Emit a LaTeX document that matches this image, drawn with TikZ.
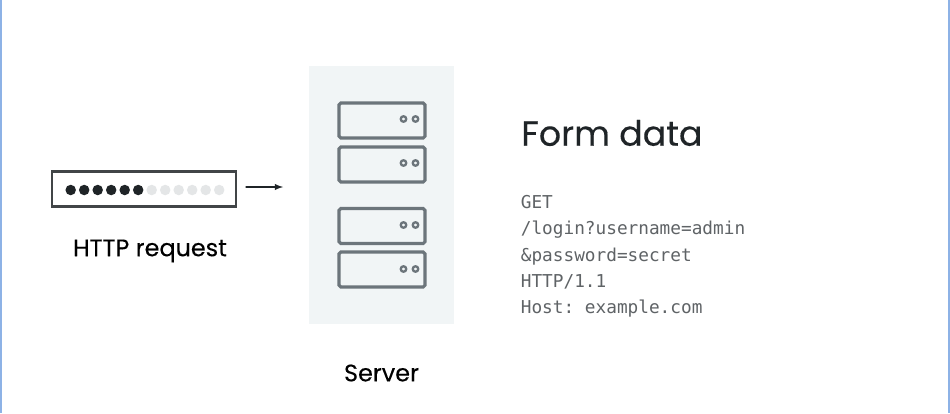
\documentclass[tikz,border=0pt]{standalone}
\usepackage{fontspec}
\setmainfont{Poppins}
\setmonofont{DejaVu Sans Mono}
\usepackage{tikz}
\definecolor{edgeblue}{HTML}{8DB2E6}
\definecolor{panelgray}{HTML}{F1F5F6}
\definecolor{rackgray}{HTML}{6C757B}
\definecolor{inkdark}{HTML}{1F2427}
\definecolor{dotlight}{HTML}{E4E6E7}
\definecolor{codegray}{HTML}{5F6366}
\begin{document}
\begin{tikzpicture}[x=0.02cm, y=-0.02cm, line cap=round,
	reqbox/.style = {rectangle, draw = inkdark!85, line width = 1.3pt, fill = white, minimum width = 3.68cm, minimum height = 0.7cm, inner sep = 0pt},
	dark/.style = {circle, fill = inkdark, minimum size = 0.21cm, inner sep = 0pt},
	light/.style = {circle, fill = dotlight, minimum size = 0.21cm, inner sep = 0pt},
	rack/.style = {rectangle, rounded corners = 1pt, draw = rackgray, line width = 1.8pt, fill = panelgray, minimum width = 1.72cm, minimum height = 0.7cm, inner sep = 0pt},
	led/.style = {circle, draw = rackgray, line width = 1.3pt, minimum size = 0.11cm, inner sep = 0pt},
	caption/.style = {text = black, font = \fontsize{13.6}{16}\selectfont\addfontfeature{FakeBold=0.2}, inner sep = 0pt}]

	\useasboundingbox (0,0) rectangle (950,413);
	\fill [white] (0,0) rectangle (950,413);
	\fill [edgeblue] (0,0) rectangle (2,413);
	\fill [edgeblue] (948,0) rectangle (950,413);

	% request
	\node [reqbox] (request) at (144,189) {};
	\node [dark] (d_1) at (70.7,190) {};
	\node [dark] (d_2) at (84.2,190) {};
	\node [dark] (d_3) at (97.7,190) {};
	\node [dark] (d_4) at (111.2,190) {};
	\node [dark] (d_5) at (124.7,190) {};
	\node [dark] (d_6) at (138.2,190) {};
	\node [light] (d_7) at (151.7,190) {};
	\node [light] (d_8) at (165.2,190) {};
	\node [light] (d_9) at (178.7,190) {};
	\node [light] (d_10) at (192.2,190) {};
	\node [light] (d_11) at (205.7,190) {};
	\node [light] (d_12) at (219.2,190) {};
	\node [caption] (request_text) at (150,251) {HTTP request};

	\coordinate (arrow_a) at (246,187);
	\coordinate (arrow_b) at (283,187);
	\draw [-latex, inkdark, line width = 0.6pt] (arrow_a) -- (arrow_b);

	% server
	\node [rectangle, fill = panelgray, minimum width = 2.9cm, minimum height = 5.16cm, inner sep = 0pt] (panel) at (381.5,195) {};
	\node [rack] (r_1) at (382,120.5) {};
	\node [rack] (r_2) at (382,164.5) {};
	\node [rack] (r_3) at (382,226) {};
	\node [rack] (r_4) at (382,269.5) {};
	\node [led] (l_1) at (403.5,119) {};
	\node [led] (l_2) at (415.5,119) {};
	\node [led] (l_3) at (403.5,163) {};
	\node [led] (l_4) at (415.5,163) {};
	\node [led] (l_5) at (403.5,225) {};
	\node [led] (l_6) at (415.5,225) {};
	\node [led] (l_7) at (403.5,269) {};
	\node [led] (l_8) at (415.5,269) {};
	\node [caption] (server_text) at (381.5,373) {Server};

	% form data
	\node [anchor = west, text = inkdark, font = \fontsize{19.8}{24}\selectfont\addfontfeature{FakeBold=0.25}, inner sep = 0pt] (title) at (521,133) {Form data};
	\node [anchor = north west, align = left, text = codegray, inner sep = 0pt, font = \ttfamily\fontsize{10.1}{15}\selectfont] (code) at (520.5,195) {GET\\/login?username=admin\\\&password=secret\\HTTP/1.1\\Host: example.com};
\end{tikzpicture}
\end{document}
